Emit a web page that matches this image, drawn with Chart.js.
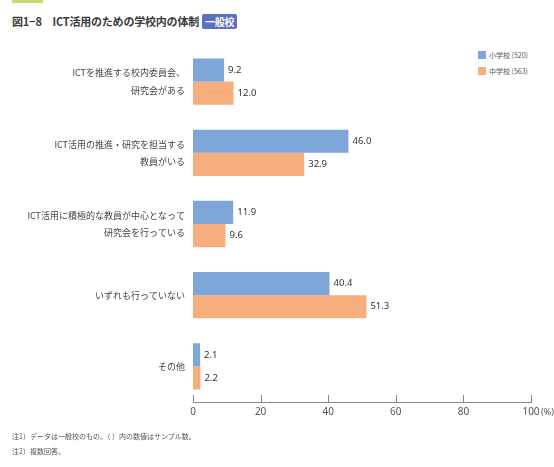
<!DOCTYPE html>
<html lang="ja">
<head>
<meta charset="utf-8">
<script src="https://cdn.jsdelivr.net/npm/chart.js@4.4.1/dist/chart.umd.min.js"></script>
<style>
  html, body { margin: 0; padding: 0; background: #fff; }
  body { font-family: "Noto Sans CJK JP", "Noto Sans", sans-serif; color: #444; }
  #wrap { position: relative; width: 554px; height: 467px; overflow: hidden; }
  #chart { position: absolute; left: 0; top: 0; }
  .strip { position: absolute; left: 12px; top: 0; width: 31px; height: 3px; background: #cbd970; }
  .title { position: absolute; left: 12px; top: 13px; font-size: 11px; font-weight: bold; color: #3a3a3a; white-space: nowrap; letter-spacing: -0.2px; }
  .badge { display: inline-block; background: #5c6fc2; color: #fff; font-size: 10px; padding: 0 3px; margin-left: 3px; border-radius: 2px; line-height: 15px; }
  .legend { position: absolute; left: 478px; font-size: 7px; color: #555; white-space: nowrap; }
  .legend i { display: inline-block; width: 8px; height: 8px; vertical-align: -1px; margin-right: 3px; }
  .note { position: absolute; left: 12px; font-size: 7px; color: #555; white-space: nowrap; }
</style>
</head>
<body>
<div id="wrap">
  <div class="strip"></div>
  <div class="title">図1−8　ICT活用のための学校内の体制<span class="badge">一般校</span></div>
  <div class="legend" style="top:50px"><i style="background:#7ea6d8"></i>小学校 (520)</div>
  <div class="legend" style="top:66px"><i style="background:#f7ae7d"></i>中学校 (563)</div>
  <canvas id="chart" width="554" height="467"></canvas>
  <div class="note" style="top:431px">注1）データは一般校のもの。（ ）内の数値はサンプル数。</div>
  <div class="note" style="top:446px">注2）複数回答。</div>
</div>
<script>
const categories = [
    ['ICTを推進する校内委員会、', '研究会がある'],
    ['ICT活用の推進・研究を担当する', '教員がいる'],
    ['ICT活用に積極的な教員が中心となって', '研究会を行っている'],
    'いずれも行っていない',
    'その他'
];
const seriesNames = ['小学校 (520)', '中学校 (563)'];
const elementary = [9.2, 46.0, 11.9, 40.4, 2.1];
const juniorHigh = [12.0, 32.9, 9.6, 51.3, 2.2];
const xTicks = [0, 20, 40, 60, 80, 100];

const BLUE = '#7ea6d8';
const ORANGE = '#f7ae7d';

// tick marks above the axis line, value labels at bar ends, unit after 100
const extras = {
    id: 'extras',
    afterDraw(chart) {
        const ctx = chart.ctx;
        const x = chart.scales.x;
        const bottom = chart.chartArea.bottom;
        ctx.save();
        ctx.strokeStyle = '#888';
        ctx.lineWidth = 1;
        xTicks.forEach(v => {
            const px = Math.round(x.getPixelForValue(v)) + 0.5;
            ctx.beginPath();
            ctx.moveTo(px, bottom - 7);
            ctx.lineTo(px, bottom);
            ctx.stroke();
        });
        ctx.fillStyle = '#555';
        ctx.font = '9px "Noto Sans", sans-serif';
        ctx.textBaseline = 'top';
        ctx.textAlign = 'left';
        ctx.fillText('(%)', x.getPixelForValue(100) + 10, bottom + 6);

        ctx.fillStyle = '#333';
        ctx.font = '9.5px "Noto Sans", sans-serif';
        ctx.textBaseline = 'middle';
        chart.data.datasets.forEach((ds, i) => {
            chart.getDatasetMeta(i).data.forEach((bar, j) => {
                ctx.fillText(ds.data[j].toFixed(1), bar.x + 4, bar.y);
            });
        });
        ctx.restore();
    }
};

new Chart(document.getElementById('chart'), {
    type: 'bar',
    data: {
        labels: categories,
        datasets: [
            { label: seriesNames[0], data: elementary, backgroundColor: BLUE },
            { label: seriesNames[1], data: juniorHigh, backgroundColor: ORANGE }
        ]
    },
    options: {
        indexAxis: 'y',
        responsive: false,
        animation: false,
        categoryPercentage: 0.65,
        barPercentage: 1.0,
        layout: { padding: { top: 46, right: 23, bottom: 49, left: 0 } },
        plugins: {
            legend: { display: false },
            tooltip: { enabled: false }
        },
        scales: {
            x: {
                min: 0,
                max: 100,
                ticks: {
                    stepSize: 20,
                    padding: 4,
                    color: '#555',
                    font: { family: '"Noto Sans", sans-serif', size: 10 }
                },
                grid: { display: false, drawTicks: false },
                border: { display: true, color: '#888' },
                afterFit: s => { s.height = 16; }
            },
            y: {
                ticks: {
                    padding: 8,
                    color: '#444',
                    font: { family: '"Noto Sans CJK JP", sans-serif', size: 9, lineHeight: 1.9 }
                },
                grid: { display: false, drawTicks: false },
                border: { display: false },
                afterFit: s => { s.width = 193; }
            }
        }
    },
    plugins: [extras]
});
</script>
</body>
</html>
